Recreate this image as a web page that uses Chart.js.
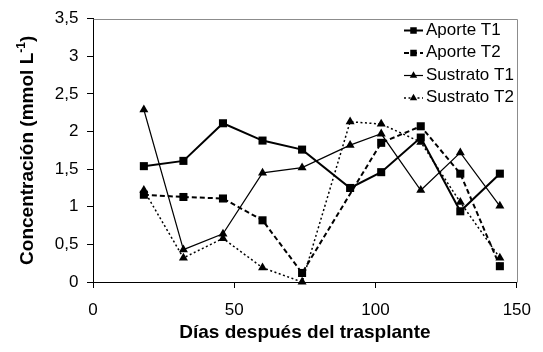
<!DOCTYPE html>
<html>
<head>
<meta charset="utf-8">
<script src="https://cdn.jsdelivr.net/npm/chart.js@4.4.1/dist/chart.umd.min.js"></script>
<style>
  html, body { margin: 0; padding: 0; background: #fff; }
  #wrap { width: 543px; height: 352px; }
</style>
</head>
<body>
<div id="wrap"><canvas id="chart" width="543" height="352"></canvas></div>
<script>
(function() {
  'use strict';

  // days after transplant
  var DAYS = [18, 32, 46, 60, 74, 91, 102, 116, 130, 144];

  var APORTE_T1 = [1.54, 1.61, 2.11, 1.88, 1.76, 1.25, 1.46, 1.92, 0.94, 1.44];
  var APORTE_T2 = [1.16, 1.13, 1.11, 0.82, 0.12, null, 1.85, 2.07, 1.44, 0.21];
  var SUSTRATO_T1 = [2.29, 0.43, 0.64, 1.45, 1.52, 1.82, 1.97, 1.22, 1.72, 1.01];
  var SUSTRATO_T2 = [1.22, 0.32, 0.58, 0.19, 0.0, 2.13, 2.10, 1.86, 1.06, 0.32];

  var SERIES_NAMES = ['Aporte T1', 'Aporte T2', 'Sustrato T1', 'Sustrato T2'];

  var X_TICKS = [0, 50, 100, 150];
  var Y_TICKS = [0, 0.5, 1, 1.5, 2, 2.5, 3, 3.5];

  var X_TITLE = 'Días después del trasplante';
  var Y_TITLE = 'Concentración (mmol L';
  var Y_TITLE_SUP = '-1';
  var Y_TITLE_END = ')';

  var FONT = '"Liberation Sans", Arial, sans-serif';

  var STYLES = [
    { width: 2, dash: [], point: 'rect', radius: 5.7, legendRadius: 4.6 },
    { width: 2, dash: [5, 3], point: 'rect', radius: 5.7, legendRadius: 4.6 },
    { width: 1.2, dash: [], point: 'triangle', radius: 5.2, legendRadius: 4.3 },
    { width: 1.5, dash: [2, 2.5], point: 'triangle', radius: 5.2, legendRadius: 4.3 }
  ];

  function toPoints(values) {
    return DAYS.map(function(d, i) { return { x: d, y: values[i] }; });
  }

  function makeDataset(i, values) {
    var s = STYLES[i];
    return {
      label: SERIES_NAMES[i],
      data: toPoints(values),
      borderColor: '#000',
      backgroundColor: '#000',
      borderWidth: s.width,
      borderDash: s.dash,
      pointStyle: s.point,
      pointRadius: s.radius,
      pointBackgroundColor: '#000',
      pointBorderWidth: 0,
      tension: 0,
      spanGaps: true,
      clip: false
    };
  }

  function commaFmt(v) {
    return String(v).replace('.', ',');
  }

  function drawMarker(ctx, type, x, y, r) {
    ctx.beginPath();
    if (type === 'rect') {
      var h = r * Math.SQRT1_2;
      ctx.rect(x - h, y - h, 2 * h, 2 * h);
    } else {
      ctx.moveTo(x, y - r);
      ctx.lineTo(x + r * 0.866, y + r * 0.5);
      ctx.lineTo(x - r * 0.866, y + r * 0.5);
      ctx.closePath();
    }
    ctx.fill();
  }

  var decorPlugin = {
    id: 'decor',
    beforeDatasetsDraw: function(chart) {
      var a = chart.chartArea;
      var ctx = chart.ctx;
      ctx.save();
      ctx.strokeStyle = '#8c8c8c';
      ctx.lineWidth = 1;
      ctx.beginPath();
      ctx.moveTo(Math.round(a.left) + 0.5, Math.round(a.top) + 0.5);
      ctx.lineTo(Math.round(a.right) + 0.5, Math.round(a.top) + 0.5);
      ctx.lineTo(Math.round(a.right) + 0.5, Math.round(a.bottom) + 0.5);
      ctx.stroke();
      ctx.restore();
    },
    afterDraw: function(chart) {
      var a = chart.chartArea;
      var ctx = chart.ctx;
      ctx.save();
      ctx.fillStyle = '#000';
      ctx.strokeStyle = '#000';

      // legend
      var lx0 = 404, lx1 = 423, mx = 413.5, tx = 426;
      SERIES_NAMES.forEach(function(name, i) {
        var s = STYLES[i];
        var y = 30.5 + i * 22.5;
        ctx.lineWidth = s.width;
        ctx.setLineDash(s.dash);
        ctx.beginPath();
        ctx.moveTo(lx0, y);
        ctx.lineTo(lx1, y);
        ctx.stroke();
        ctx.setLineDash([]);
        drawMarker(ctx, s.point, mx, y, s.legendRadius);
        ctx.font = '17px ' + FONT;
        ctx.textAlign = 'left';
        ctx.textBaseline = 'middle';
        ctx.fillText(name, tx, y - 0.5);
      });

      // x title
      ctx.font = 'bold 19px ' + FONT;
      ctx.textAlign = 'center';
      ctx.textBaseline = 'alphabetic';
      ctx.fillText(X_TITLE, (a.left + a.right) / 2, 338);

      // y title with superscript
      ctx.translate(33, (a.top + a.bottom) / 2);
      ctx.rotate(-Math.PI / 2);
      ctx.textAlign = 'left';
      var supFont = 'bold 12px ' + FONT;
      var mainFont = 'bold 19px ' + FONT;
      ctx.font = mainFont;
      var w1 = ctx.measureText(Y_TITLE).width;
      var w3 = ctx.measureText(Y_TITLE_END).width;
      ctx.font = supFont;
      var w2 = ctx.measureText(Y_TITLE_SUP).width;
      var x = -(w1 + w2 + w3) / 2;
      ctx.font = mainFont;
      ctx.fillText(Y_TITLE, x, 0);
      ctx.font = supFont;
      ctx.fillText(Y_TITLE_SUP, x + w1, -8);
      ctx.font = mainFont;
      ctx.fillText(Y_TITLE_END, x + w1 + w2, 0);
      ctx.restore();
    }
  };

  Chart.defaults.font.family = FONT;
  Chart.defaults.color = '#000';

  new Chart(document.getElementById('chart'), {
    type: 'line',
    data: {
      datasets: [
        makeDataset(0, APORTE_T1),
        makeDataset(1, APORTE_T2),
        makeDataset(2, SUSTRATO_T1),
        makeDataset(3, SUSTRATO_T2)
      ]
    },
    options: {
      responsive: false,
      animation: false,
      devicePixelRatio: 1,
      layout: { padding: { left: 0, top: 12.5, right: 22, bottom: 0 } },
      plugins: {
        legend: { display: false },
        tooltip: { enabled: false }
      },
      scales: {
        x: {
          type: 'linear',
          min: 0,
          max: 150,
          afterBuildTicks: function(scale) {
            scale.ticks = X_TICKS.map(function(v) { return { value: v }; });
          },
          afterFit: function(scale) { scale.height = 70; },
          ticks: {
            font: { size: 17 },
            color: '#000',
            padding: 12,
            maxRotation: 0,
            callback: function(v) { return commaFmt(v); }
          },
          grid: { drawOnChartArea: false, drawTicks: true, tickLength: 6, color: '#000' },
          border: { display: true, color: '#000', width: 1 }
        },
        y: {
          type: 'linear',
          min: 0,
          max: 3.5,
          afterBuildTicks: function(scale) {
            scale.ticks = Y_TICKS.map(function(v) { return { value: v }; });
          },
          afterFit: function(scale) { scale.width = 93; },
          ticks: {
            font: { size: 17 },
            color: '#000',
            padding: 8.5,
            callback: function(v) { return commaFmt(v); }
          },
          grid: { drawOnChartArea: false, drawTicks: true, tickLength: 6, color: '#000' },
          border: { display: true, color: '#000', width: 1 }
        }
      }
    },
    plugins: [decorPlugin]
  });
})();
</script>
</body>
</html>
